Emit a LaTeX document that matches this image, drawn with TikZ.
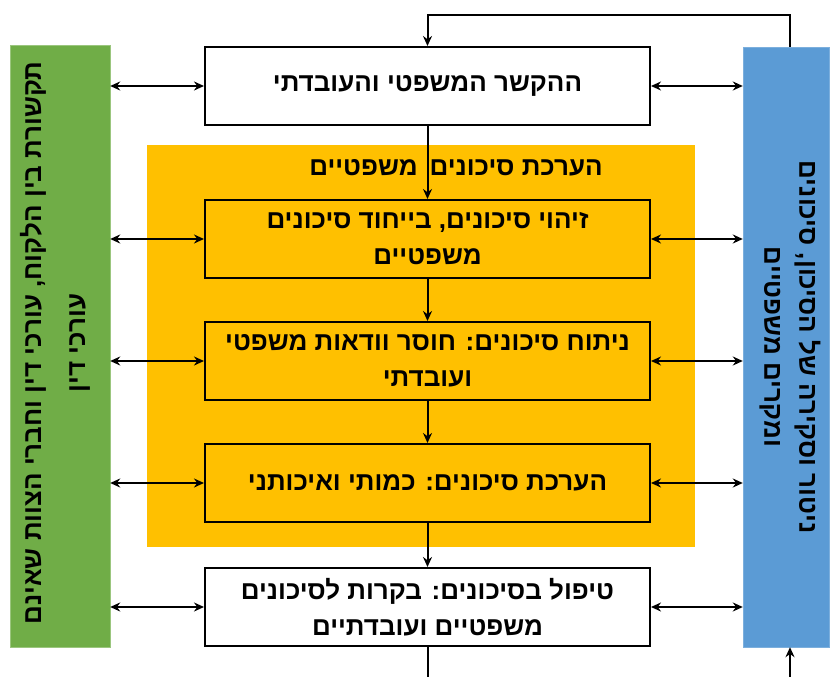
\documentclass[tikz,border=0pt]{standalone}
\usepackage{fontspec}
\usepackage{tikz}
\usetikzlibrary{arrows.meta}
\newfontfamily\hebfont[Script=Hebrew]{Liberation Sans}
\TeXXeTstate=1
\definecolor{barGreen}{HTML}{70AD47}
\definecolor{barBlue}{HTML}{5B9BD5}
\definecolor{riskOrange}{HTML}{FFC000}
\newcommand{\heb}[1]{\beginR #1\endR}

\tikzset{
  stepbox/.style={draw=black, line width=2pt, minimum width=445pt, minimum height=78pt,
    inner sep=0pt, align=center, font=\hebfont\bfseries\fontsize{26}{36}\selectfont},
  sidetext/.style={align=center, font=\hebfont\bfseries\fontsize{26}{44}\selectfont},
}

\begin{document}
\begin{tikzpicture}[x=1pt,y=-1pt]
\useasboundingbox (0,0) rectangle (831,677);
\begin{scope}
    \node[fill=barGreen, draw=barGreen!70!white, minimum width=100pt, minimum height=602pt] (comm) at (60,346) {};
    \node[fill=barBlue, draw=barBlue!80!white, minimum width=86pt, minimum height=600pt] (monitor) at (786,347) {};
    \node[fill=riskOrange, minimum width=548pt, minimum height=402pt] (assess) at (421,346) {};
    \node[sidetext, rotate=90] (commtext) at (55,343) {\heb{תקשורת בין הלקוח, עורכי דין וחברי הצוות שאינם}\\\heb{עורכי דין}};
    \node[sidetext, rotate=-90, font=\hebfont\bfseries\fontsize{26}{35}\selectfont] (montext) at (790,347) {\heb{ניטור וסקירה של הסיכון, סיכונים}\\\heb{ומקרים משפטיים}};
    \node[font=\hebfont\bfseries\fontsize{26}{30}\selectfont] (assesstitle) at (456,168) {\heb{הערכת סיכונים\hspace{12pt}משפטיים}};
    \node[stepbox, fill=white] (ctx) at (427.5,86) {\heb{ההקשר המשפטי והעובדתי}};
    \node[stepbox] (ident) at (427.5,239) {\heb{זיהוי סיכונים, בייחוד סיכונים}\\\heb{משפטיים}};
    \node[stepbox] (anal) at (427.5,361) {\heb{ניתוח סיכונים: חוסר וודאות משפטי}\\\heb{ועובדתי}};
    \node[stepbox] (eval) at (427.5,483) {\heb{הערכת סיכונים: כמותי ואיכותני}};
    \node[stepbox, fill=white] (treat) at (427.5,607) {\heb{טיפול בסיכונים: בקרות לסיכונים}\\\heb{משפטיים ועובדתיים}};
    \coordinate (loop) at (790,15);
    \coordinate (outb) at (427.5,677);
    \coordinate (inb) at (790,677);
\end{scope}

\begin{scope}[>={Stealth[black,length=10pt,width=9pt]},every edge/.style={draw=black,line width=2pt}]
    \path [<->] (ctx.west -| comm.east) edge (ctx.west);
    \path [<->] (ident.west -| comm.east) edge (ident.west);
    \path [<->] (anal.west -| comm.east) edge (anal.west);
    \path [<->] (eval.west -| comm.east) edge (eval.west);
    \path [<->] (treat.west -| comm.east) edge (treat.west);

    \path [<->] (ctx.east) edge (ctx.east -| monitor.west);
    \path [<->] (ident.east) edge (ident.east -| monitor.west);
    \path [<->] (anal.east) edge (anal.east -| monitor.west);
    \path [<->] (eval.east) edge (eval.east -| monitor.west);
    \path [<->] (treat.east) edge (treat.east -| monitor.west);

    \path [->] (ctx.south) edge (ident.north);
    \path [->] (ident.south) edge (anal.north);
    \path [->] (anal.south) edge (eval.north);
    \path [->] (eval.south) edge (treat.north);

    \draw [->, line width=2pt] (loop |- monitor.north) -- (loop) -| (ctx.north);
    \path [-] (treat.south) edge (outb);
    \path [->] (inb) edge (inb |- monitor.south);
\end{scope}
\end{tikzpicture}
\end{document}
